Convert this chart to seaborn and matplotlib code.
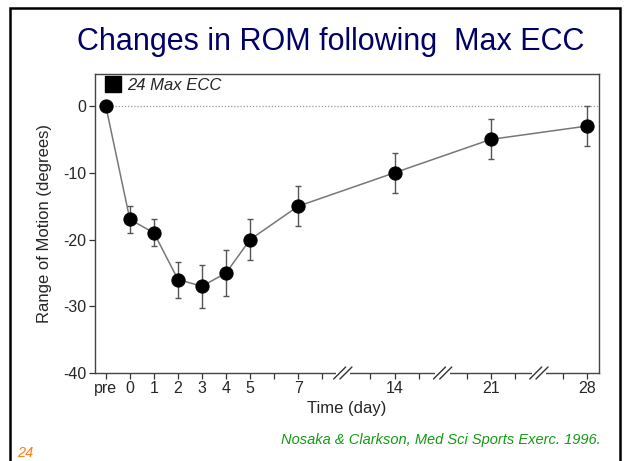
import matplotlib
matplotlib.use("Agg")
import matplotlib.pyplot as plt
import seaborn as sns
import pandas as pd
from matplotlib.lines import Line2D
from matplotlib.patches import Rectangle

# ---- data ----
time_labels = ['pre', '0', '1', '2', '3', '4', '5', '7', '14', '21', '28']
rom_mean = [0, -17, -19, -26, -27, -25, -20, -15, -10, -5, -3]
rom_err = [0, 2, 2, 2.7, 3.2, 3.4, 3, 3, 3, 3, 3]
tick_labels_shown = ['pre', '0', '1', '2', '3', '4', '5', '7', '14', '21', '28']
y_ticks = [0, -10, -20, -30, -40]


def day_to_axis(label):
    """Broken time axis: 1 unit per day up to day 7, compressed afterwards."""
    if label == 'pre':
        return 0.0
    d = float(label)
    if d <= 7:
        return d + 1
    return 8 + (d - 7) * 4 / 7


df = pd.DataFrame({'label': time_labels,
                   'pos': [day_to_axis(t) for t in time_labels],
                   'rom': rom_mean,
                   'err': rom_err})

sns.set_theme(style="white")
plt.rcParams['font.family'] = ['Liberation Sans', 'DejaVu Sans']

fig = plt.figure(figsize=(6.24, 4.61), dpi=100)
ax = fig.add_axes([95 / 624, 1 - 373 / 461, (599 - 95) / 624, (373 - 74) / 461])

# reference dotted line at 0
ax.axhline(0, xmin=0.04, xmax=1.0, color='#999999', lw=0.9, ls=(0, (1, 1.5)), zorder=1)

# error bars
ax.errorbar(df['pos'][1:], df['rom'][1:], yerr=df['err'][1:], fmt='none',
            ecolor='#555555', elinewidth=1.0, capsize=2.5, capthick=1.0, zorder=2)

# line + markers
sns.lineplot(data=df, x='pos', y='rom', ax=ax, color='#777777', lw=1.1,
             marker='o', markersize=9.5, markerfacecolor='black',
             markeredgecolor='black', zorder=3)

ax.set_xlim(-0.45, 20.5)
ax.set_ylim(-40, 4.8)
ax.set_yticks(y_ticks)
ax.set_yticklabels([str(v) for v in y_ticks], fontsize=11.5)

major_pos = [day_to_axis(t) for t in tick_labels_shown]
ax.set_xticks(major_pos)
ax.set_xticklabels(tick_labels_shown, fontsize=11.5)
minor_pos = [7, 9, 11, 13, 15, 17, 19]
ax.set_xticks(minor_pos, minor=True)
ax.tick_params(axis='both', which='both', direction='out', length=4, width=0.9,
               color='#333333', bottom=True, left=True, pad=2)
ax.tick_params(axis='x', which='minor', length=4)

for s in ax.spines.values():
    s.set_color('#444444')
    s.set_linewidth(1.0)

ax.set_xlabel('Time (day)', fontsize=12, labelpad=3)
ax.set_ylabel('Range of Motion (degrees)', fontsize=12, labelpad=8)

# axis breaks "//"
trans = ax.get_xaxis_transform()
for bx in [9.85, 14.0, 18.0]:
    ax.add_patch(Rectangle((bx - 0.3, -0.01), 0.6, 0.02, transform=trans,
                           facecolor='white', edgecolor='none', clip_on=False, zorder=5))
    for off in (-0.13, 0.13):
        ax.add_line(Line2D([bx + off - 0.25, bx + off + 0.25], [-0.02, 0.02],
                           transform=trans, color='#333333', lw=1.0,
                           clip_on=False, zorder=6))

# legend
handle = Line2D([], [], marker='s', color='black', linestyle='', markersize=11)
ax.legend([handle], ['24 Max ECC'], loc='upper left', bbox_to_anchor=(0.005, 1.01),
          frameon=False, handletextpad=0.4, handlelength=1.0, borderaxespad=0,
          prop={'style': 'italic', 'size': 12})

# slide decorations
fig.text(331 / 624, 1 - 42 / 461, 'Changes in ROM following  Max ECC', ha='center',
         va='center', fontsize=22, color='#000066')
fig.text(601 / 624, 1 - 444 / 461, 'Nosaka & Clarkson, Med Sci Sports Exerc. 1996.',
         ha='right', va='baseline', fontsize=10.5, style='italic', color='#139a13')
fig.text(17 / 624, 1 - 457 / 461, '24', ha='left', va='baseline', fontsize=10.5,
         style='italic', color='#ff7f1a')
fig.add_artist(Rectangle((10 / 624, -0.05), (620 - 10) / 624, 1.05 - 8 / 461,
                         transform=fig.transFigure, fill=False, edgecolor='black',
                         lw=1.8))

fig.savefig('out.png', dpi=100)
